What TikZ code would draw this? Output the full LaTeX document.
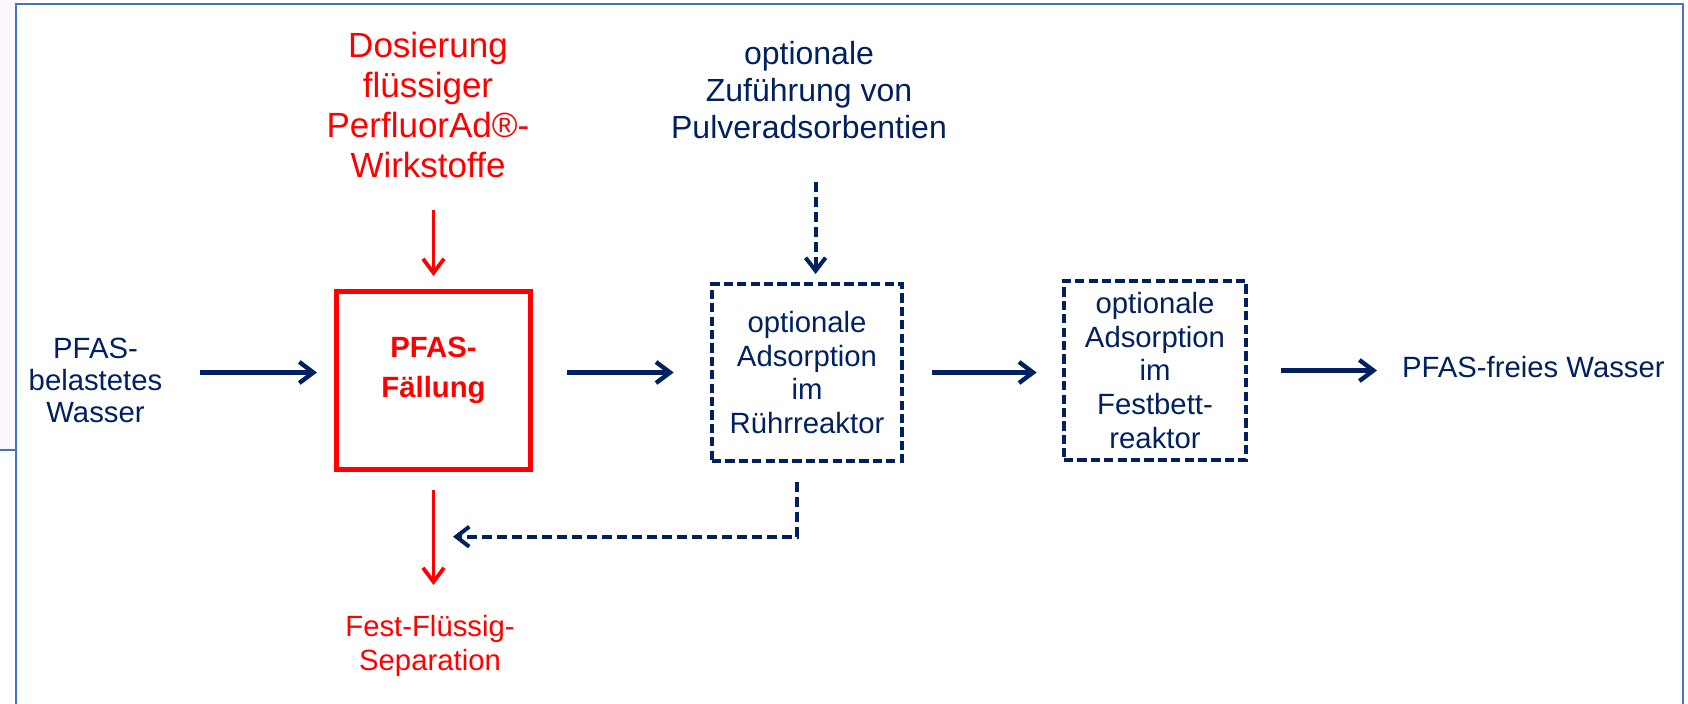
\documentclass[tikz,border=0pt]{standalone}
\usepackage{fontspec}
\setmainfont{Liberation Sans}
\usetikzlibrary{arrows.meta,calc}
\definecolor{navy}{RGB}{0,32,96}
\definecolor{pred}{RGB}{255,0,0}
\definecolor{frameblue}{RGB}{68,114,196}
\definecolor{lav}{RGB}{252,247,252}
\begin{document}
\begin{tikzpicture}[x=0.5pt,y=-0.5pt,
  lbl/.style={inner sep=0pt, outer sep=0pt, align=center, text=navy},
  body/.style={font={\fontsize{14.65}{16.85}\selectfont}},
  arr/.style={draw=navy, line width=2.2pt, -{Straight Barb[length=7pt,width=10.5pt]}},
  redarr/.style={draw=pred, line width=1.9pt, -{Straight Barb[length=7pt,width=10.5pt]}},
  darr/.style={draw=navy, line width=2pt, dash pattern=on 5pt off 2.5pt, -{Straight Barb[length=6.5pt,width=10pt]}},
  redbox/.style={draw=pred, line width=2.3pt, minimum width=97.25pt, minimum height=89.25pt, inner sep=0pt},
  dbox/.style={draw=navy, line width=2.3pt, dash pattern=on 4.6pt off 2.1pt, inner sep=0pt, align=center, text=navy, body},
  framestyle/.style={draw=frameblue, line width=1.2pt}
]
\useasboundingbox (0,0) rectangle (1688,704);
% frame
\fill[lav] (0,0) rectangle (16,450);
\draw[framestyle] (0,450) -- (16,450);
\draw[framestyle] (16,704) -- (16,4) -- (1683,4) -- (1683,704);

% nodes
\node[lbl, font={\fontsize{14.65}{16}\selectfont}] (src) at (95.5,380.5) {PFAS-\\belastetes\\Wasser};
\node[lbl, text=pred, font={\fontsize{17.5}{20}\selectfont}] (dos) at (428,104.5) {Dosierung\\flüssiger\\PerfluorAd®-\\Wirkstoffe};
\node[lbl, font={\fontsize{16}{18.5}\selectfont}] (zuf) at (809,90.5) {optionale\\Zuführung von\\Pulveradsorbentien};
\node[redbox] (fall) at (433.5,380.5) {};
\node[lbl, text=pred, font={\fontsize{14.65}{20}\selectfont\bfseries}] (falltxt) at (433.5,370.6) {PFAS-\\Fällung};
\node[dbox, minimum width=95pt, minimum height=88.5pt] (b1) at (807,372.5) {optionale\\Adsorption\\im\\Rührreaktor};
\node[dbox, minimum width=91pt, minimum height=89.5pt] (b2) at (1155,370.5) {optionale\\Adsorption\\im\\Festbett-\\reaktor};
\node[lbl, body, anchor=west] (out) at (1402,367.2) {PFAS-freies Wasser};
\node[lbl, text=pred, font={\fontsize{14.65}{17}\selectfont}] (sep) at (430,646.3) {Fest-Flüssig-\\Separation};
\coordinate (ret) at (453,536.7);

% connectors
\draw[arr, shorten <=18.85pt, shorten >=8.5pt] (src.east |- b1.west) -- (fall.west |- b1.west);
\draw[arr, shorten <=16.75pt, shorten >=18pt] (fall.east |- b1.west) -- (b1.west);
\draw[arr, shorten <=14pt, shorten >=12.5pt] (b1.east) -- (b2.west |- b1.east);
\draw[arr, shorten <=16.5pt, shorten >=12.5pt] (b2.east) -- (out.west |- b2.east);
\draw[redarr, shorten <=16.5pt, shorten >=6.5pt] (dos.south -| fall.north) -- (fall.north);
\draw[redarr, shorten <=9pt, shorten >=15.35pt] (fall.south) -- (fall.south |- sep.north);
\draw[darr, shorten <=21.35pt, shorten >=3.85pt] ($(zuf.south -| b1.north)+(8.6,0)$) -- ($(b1.north)+(8.6,0)$);
\draw[darr, shorten <=9.35pt] ($(b1.south)+(-10,0)$) |- (ret);
\end{tikzpicture}
\end{document}
